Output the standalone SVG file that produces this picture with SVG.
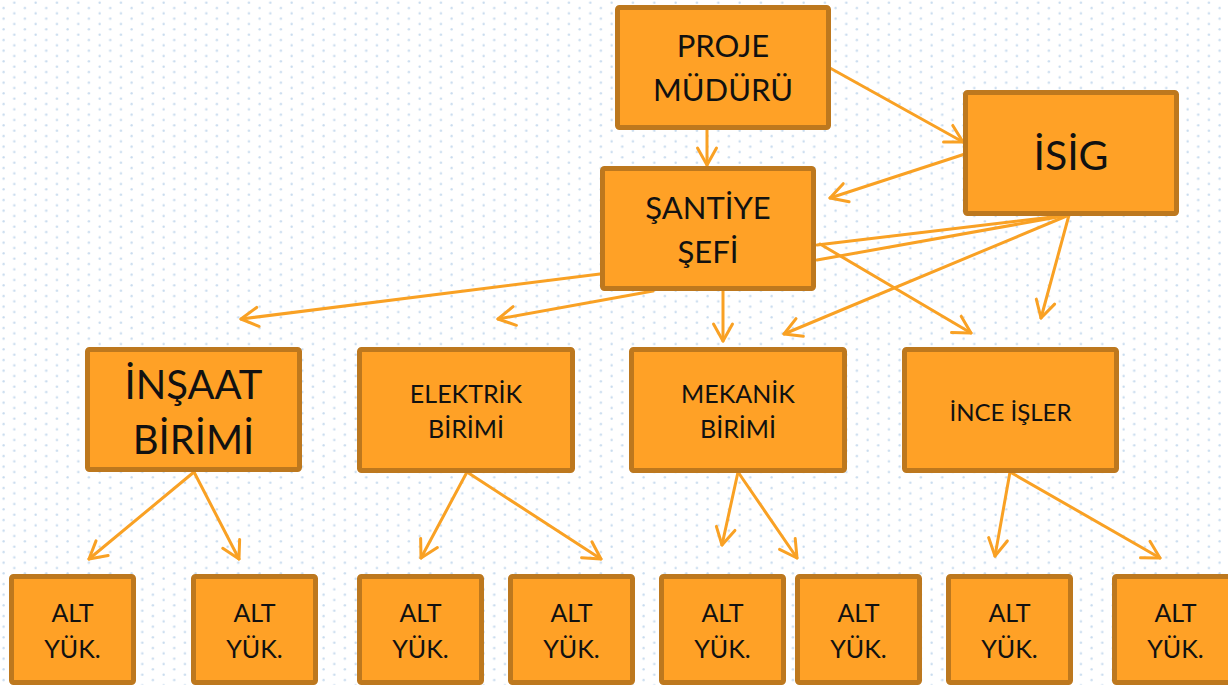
<svg xmlns="http://www.w3.org/2000/svg" width="1228" height="685" viewBox="0 0 1228 685">
<defs>
<pattern id="dots" patternUnits="userSpaceOnUse" width="21.333" height="10.667">
<circle cx="14.3" cy="2.7" r="1.2" fill="#c8dbee"/>
<circle cx="3.6" cy="8.0" r="1.2" fill="#c8dbee"/>
</pattern>
<marker id="arr" viewBox="-20 -12 23 24" refX="0" refY="0" markerWidth="23" markerHeight="24" markerUnits="userSpaceOnUse" orient="auto">
<path d="M-17,-9.5 L0,0 L-17,9.5" fill="none" stroke="#f9a124" stroke-width="3" stroke-linecap="round" stroke-linejoin="round"/>
</marker>
<style>
.box{fill:#ffa126;stroke:#bd781e;stroke-width:5}
.lbl{font-family:Lato,"Open Sans","Noto Sans",sans-serif;fill:#111;text-anchor:middle}
.c{stroke:#f9a124;stroke-width:3;fill:none;stroke-linecap:round}
.a{marker-end:url(#arr)}
</style>
</defs>
<rect x="0" y="0" width="1228" height="685" fill="#ffffff"/>
<rect x="0" y="0" width="1228" height="685" fill="url(#dots)"/>

<g id="connectors">
<line class="c a" x1="707" y1="130" x2="707" y2="165"/>
<line class="c a" x1="830" y1="68" x2="963" y2="142"/>
<line class="c a" x1="965" y1="154" x2="830" y2="198"/>
<line class="c a" x1="600" y1="274" x2="241" y2="319"/>
<line class="c a" x1="653" y1="291" x2="498" y2="319"/>
<line class="c a" x1="723" y1="291" x2="723" y2="341"/>
<line class="c a" x1="1069" y1="215" x2="784" y2="334"/>
<line class="c a" x1="820" y1="244" x2="971" y2="333"/>
<line class="c a" x1="1069" y1="215" x2="1041" y2="318"/>
<line class="c" x1="817" y1="245" x2="1069" y2="215"/>
<line class="c" x1="817" y1="260" x2="1069" y2="215"/>
<line class="c a" x1="194" y1="472" x2="89" y2="559"/>
<line class="c a" x1="194" y1="472" x2="239" y2="559"/>
<line class="c a" x1="467" y1="472" x2="421" y2="558"/>
<line class="c a" x1="467" y1="472" x2="601" y2="559"/>
<line class="c a" x1="738" y1="472" x2="722" y2="545"/>
<line class="c a" x1="738" y1="472" x2="797" y2="558"/>
<line class="c a" x1="1010" y1="472" x2="995" y2="556"/>
<line class="c a" x1="1010" y1="472" x2="1160" y2="558"/>
</g>

<g id="proje">
<rect class="box" x="617.5" y="7.5" width="211" height="120" rx="2"/>
<text class="lbl" x="723" y="57" font-size="31">PROJE</text>
<text class="lbl" x="723" y="101" font-size="31">MÜDÜRÜ</text>
</g>
<g id="santiye">
<rect class="box" x="602.5" y="168.5" width="211" height="120" rx="2"/>
<text class="lbl" x="708" y="219" font-size="31">ŞANTİYE</text>
<text class="lbl" x="708" y="263" font-size="31">ŞEFİ</text>
</g>
<g id="isig">
<rect class="box" x="965.5" y="92.5" width="211" height="121" rx="2"/>
<text class="lbl" x="1071" y="170" font-size="41">İSİG</text>
</g>
<g id="insaat">
<rect class="box" x="87.5" y="349.5" width="212" height="120" rx="2"/>
<text class="lbl" x="193.5" y="399" font-size="40">İNŞAAT</text>
<text class="lbl" x="193.5" y="454" font-size="40">BİRİMİ</text>
</g>
<g id="elektrik">
<rect class="box" x="359.5" y="349.5" width="213" height="121" rx="2"/>
<text class="lbl" x="466" y="403" font-size="25">ELEKTRİK</text>
<text class="lbl" x="466" y="438" font-size="25">BİRİMİ</text>
</g>
<g id="mekanik">
<rect class="box" x="631.5" y="349.5" width="213" height="121" rx="2"/>
<text class="lbl" x="738" y="403" font-size="25">MEKANİK</text>
<text class="lbl" x="738" y="438" font-size="25">BİRİMİ</text>
</g>
<g id="inceisler">
<rect class="box" x="904.5" y="349.5" width="212" height="121" rx="2"/>
<text class="lbl" x="1010.5" y="421" font-size="24">İNCE İŞLER</text>
</g>

<g id="alt1"><rect class="box" x="11.5" y="576.5" width="122" height="106" rx="2"/><text class="lbl" x="72.5" y="622" font-size="25">ALT</text><text class="lbl" x="72.5" y="658" font-size="25">YÜK.</text></g>
<g id="alt2"><rect class="box" x="193.5" y="576.5" width="122" height="106" rx="2"/><text class="lbl" x="254.5" y="622" font-size="25">ALT</text><text class="lbl" x="254.5" y="658" font-size="25">YÜK.</text></g>
<g id="alt3"><rect class="box" x="359.5" y="576.5" width="122" height="106" rx="2"/><text class="lbl" x="420.5" y="622" font-size="25">ALT</text><text class="lbl" x="420.5" y="658" font-size="25">YÜK.</text></g>
<g id="alt4"><rect class="box" x="510.5" y="576.5" width="122" height="106" rx="2"/><text class="lbl" x="571.5" y="622" font-size="25">ALT</text><text class="lbl" x="571.5" y="658" font-size="25">YÜK.</text></g>
<g id="alt5"><rect class="box" x="661.5" y="576.5" width="122" height="106" rx="2"/><text class="lbl" x="722.5" y="622" font-size="25">ALT</text><text class="lbl" x="722.5" y="658" font-size="25">YÜK.</text></g>
<g id="alt6"><rect class="box" x="797.5" y="576.5" width="122" height="106" rx="2"/><text class="lbl" x="858.5" y="622" font-size="25">ALT</text><text class="lbl" x="858.5" y="658" font-size="25">YÜK.</text></g>
<g id="alt7"><rect class="box" x="948.5" y="576.5" width="122" height="106" rx="2"/><text class="lbl" x="1009.5" y="622" font-size="25">ALT</text><text class="lbl" x="1009.5" y="658" font-size="25">YÜK.</text></g>
<g id="alt8"><rect class="box" x="1114.5" y="576.5" width="122" height="106" rx="2"/><text class="lbl" x="1175.5" y="622" font-size="25">ALT</text><text class="lbl" x="1175.5" y="658" font-size="25">YÜK.</text></g>
</svg>
